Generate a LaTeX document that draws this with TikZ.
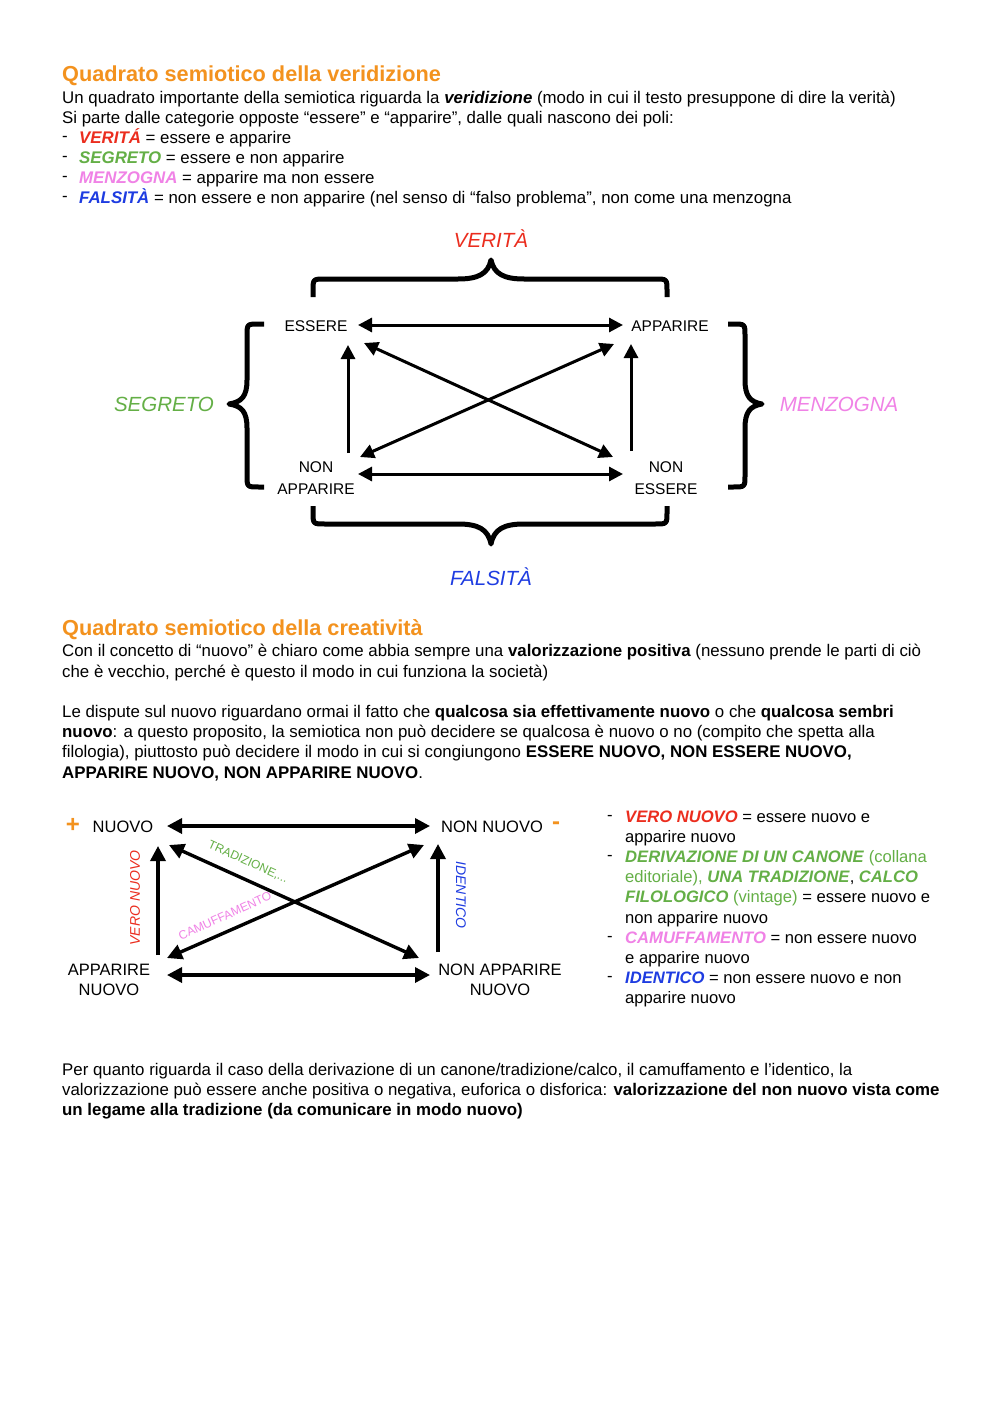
\documentclass[tikz,border=0pt]{standalone}
\usepackage{fontspec}
\setmainfont{Liberation Sans}
\usetikzlibrary{arrows.meta}
\definecolor{orng}{RGB}{243,146,30}
\definecolor{rd}{RGB}{235,45,30}
\definecolor{grn}{RGB}{100,175,70}
\definecolor{pnk}{RGB}{240,130,230}
\definecolor{blu}{RGB}{30,60,225}
\newcommand{\bfit}[1]{\textbf{\textit{#1}}}
\tikzset{
  txt/.style={anchor=base west, inner sep=0pt, font=\fontsize{16.85}{20}\selectfont},
  lst/.style={anchor=base west, inner sep=0pt, font=\fontsize{16.6}{20}\selectfont},
  ttl/.style={anchor=base west, inner sep=0pt, text=orng, font=\fontsize{21.7}{26}\selectfont\bfseries},
  pole/.style={inner sep=0pt, align=center, font=\fontsize{15.5}{21.5}\selectfont},
  poleb/.style={inner sep=0pt, align=center, font=\fontsize{16.5}{20}\selectfont},
  cat/.style={inner sep=0pt, font=\fontsize{20.5}{24}\selectfont\itshape},
  dlab/.style={inner sep=0pt, font=\fontsize{14}{16}\selectfont\itshape},
  slab/.style={inner sep=0pt, font=\fontsize{12}{14}\selectfont},
  brc/.style={line width=5pt, line join=round},
  arr/.style={line width=3pt, -{Triangle[length=14pt,width=14pt]}},
  darr/.style={line width=3pt, {Triangle[length=14pt,width=14pt]}-{Triangle[length=14pt,width=14pt]}},
  arrb/.style={line width=3.4pt, -{Triangle[length=15pt,width=15pt]}},
  darrb/.style={line width=3.4pt, {Triangle[length=15pt,width=15pt]}-{Triangle[length=15pt,width=15pt]}},
}
\begin{document}
\begin{tikzpicture}[x=1pt,y=-1pt]
\fill[white] (0,0) rectangle (1000,1415);
\useasboundingbox (0,0) rectangle (1000,1415);

% ---------- Section 1 ----------
\node[ttl] (t1) at (62,82) {Quadrato semiotico della veridizione};
\node[txt] (a1) at (62,104) {Un quadrato importante della semiotica riguarda la \bfit{veridizione} (modo in cui il testo presuppone di dire la verità)};
\node[txt] (a2) at (62,124) {Si parte dalle categorie opposte “essere” e “apparire”, dalle quali nascono dei poli:};
\node[txt] (d1) at (62,142) {-};
\node[txt] (b1) at (79,144) {{\color{rd}\bfit{VERITÁ}} = essere e apparire};
\node[txt] (d2) at (62,162) {-};
\node[txt] (b2) at (79,164) {{\color{grn}\bfit{SEGRETO}} = essere e non apparire};
\node[txt] (d3) at (62,182) {-};
\node[txt] (b3) at (79,184) {{\color{pnk}\bfit{MENZOGNA}} = apparire ma non essere};
\node[txt] (d4) at (62,202) {-};
\node[txt] (b4) at (79,204) {{\color{blu}\bfit{FALSITÀ}} = non essere e non apparire (nel senso di “falso problema”, non come una menzogna};

% ---------- Diagram 1 ----------
\node[cat, text=rd] (ver) at (491,239) {VERITÀ};
\node[cat, text=grn] (seg) at (164,404) {SEGRETO};
\node[cat, text=pnk] (men) at (839,404) {MENZOGNA};
\node[cat, text=blu] (fal) at (491,577) {FALSITÀ};

\node[pole] (ess) at (316,326) {ESSERE};
\node[pole] (app) at (670,326) {APPARIRE};
\node[pole] (nap) at (316,478) {NON\\APPARIRE};
\node[pole] (nes) at (666,478) {NON\\ESSERE};

\draw[darr] ([shift={(42,-1)}]ess.center) -- ([shift={(-47,-1)}]app.center);
\draw[darr] ([shift={(42,-4)}]nap.center) -- ([shift={(-43,-4)}]nes.center);
\draw[arr] ([shift={(32,-25)}]nap.center) -- ([shift={(32,19)}]ess.center);
\draw[arr] ([shift={(-35,-27)}]nes.center) -- ([shift={(-39,18)}]app.center);
\draw[darr] ([shift={(48,17)}]ess.center) -- ([shift={(-53,-21)}]nes.center);
\draw[darr] ([shift={(44,-21)}]nap.center) -- ([shift={(-56,18)}]app.center);

% braces
\draw[brc] (313,297) -- (313,291) .. controls (313,279) .. (325,279) -- (458,279) .. controls (478,279) and (488,274) .. (491,260) .. controls (494,274) and (504,279) .. (524,279) -- (655,279) .. controls (667,279) .. (667,291) -- (667,297);
\draw[brc] (313,506) -- (313,512) .. controls (313,524) .. (325,524) -- (458,524) .. controls (478,524) and (488,529) .. (491,544) .. controls (494,529) and (504,524) .. (524,524) -- (655,524) .. controls (667,524) .. (667,512) -- (667,506);
\draw[brc] (264,324) -- (259,324) .. controls (247,324) .. (247,336) -- (247,380) .. controls (247,396) and (242,402) .. (229,404) .. controls (242,406) and (247,412) .. (247,428) -- (247,475) .. controls (247,487) .. (259,487) -- (264,487);
\draw[brc] (728,324) -- (733,324) .. controls (745,324) .. (745,336) -- (745,380) .. controls (745,396) and (750,402) .. (762,404) .. controls (750,406) and (745,412) .. (745,428) -- (745,475) .. controls (745,487) .. (733,487) -- (728,487);

% ---------- Section 2 ----------
\node[ttl] (t2) at (62,635) {Quadrato semiotico della creatività};
\node[txt] (c1) at (62,656) {Con il concetto di “nuovo” è chiaro come abbia sempre una \textbf{valorizzazione positiva} (nessuno prende le parti di ciò};
\node[txt] (c2) at (62,677) {che è vecchio, perché è questo il modo in cui funziona la società)};
\node[txt] (c3) at (62,717) {Le dispute sul nuovo riguardano ormai il fatto che \textbf{qualcosa sia effettivamente nuovo} o che \textbf{qualcosa sembri}};
\node[txt] (c4) at (62,737) {\textbf{nuovo}: a questo proposito, la semiotica non può decidere se qualcosa è nuovo o no (compito che spetta alla};
\node[txt] (c5) at (62,757) {filologia), piuttosto può decidere il modo in cui si congiungono \textbf{ESSERE NUOVO, NON ESSERE NUOVO,}};
\node[txt] (c6) at (62,778) {\textbf{APPARIRE NUOVO, NON APPARIRE NUOVO}.};

% ---------- Diagram 2 ----------
\node[inner sep=0pt, text=orng, font=\fontsize{24}{24}\selectfont\bfseries] (plus) at (73,825) {+};
\node[inner sep=0pt, text=orng, font=\fontsize{24}{24}\selectfont\bfseries] (minus) at (556,826) {-};
\node[poleb] (nuovo) at (123,827) {NUOVO};
\node[poleb] (nonn) at (492,827) {NON NUOVO};
\node[poleb] (appn) at (109,980) {APPARIRE\\NUOVO};
\node[poleb] (napn) at (500,980) {NON APPARIRE\\NUOVO};

\draw[darrb] ([shift={(44,-1)}]nuovo.center) -- ([shift={(-62,-1)}]nonn.center);
\draw[darrb] ([shift={(58,-5)}]appn.center) -- ([shift={(-70,-5)}]napn.center);
\draw[arrb] ([shift={(49,-25)}]appn.center) -- ([shift={(35,19)}]nuovo.center);
\draw[arrb] ([shift={(-62,-28)}]napn.center) -- ([shift={(-54,17)}]nonn.center);
\draw[darrb] ([shift={(46,18)}]nuovo.center) -- ([shift={(-81,-22)}]napn.center);
\draw[darrb] ([shift={(58,-22)}]appn.center) -- ([shift={(-68,18)}]nonn.center);

\node[dlab, text=rd, rotate=90] (lvero) at (135,898) {VERO NUOVO};
\node[dlab, text=blu, rotate=-90] (lid) at (461,895) {IDENTICO};
\node[slab, text=grn, rotate=-24.3] (ltrad) at (248,862) {TRADIZIONE,...};
\node[slab, text=pnk, rotate=24.3] (lcam) at (225,916) {CAMUFFAMENTO};

% right list
\node[lst] (e1) at (607,820) {-};
\node[lst] (f1) at (625,822) {{\color{rd}\bfit{VERO NUOVO}} = essere nuovo e};
\node[lst] (f2) at (625,842) {apparire nuovo};
\node[lst] (e3) at (607,860) {-};
\node[lst] (f3) at (625,862) {{\color{grn}\bfit{DERIVAZIONE DI UN CANONE} (collana}};
\node[lst] (f4) at (625,882) {{\color{grn}editoriale), \bfit{UNA TRADIZIONE}}, {\color{grn}\bfit{CALCO}}};
\node[lst] (f5) at (625,902) {{\color{grn}\bfit{FILOLOGICO} (vintage)} = essere nuovo e};
\node[lst] (f6) at (625,923) {non apparire nuovo};
\node[lst] (e7) at (607,941) {-};
\node[lst] (f7) at (625,943) {{\color{pnk}\bfit{CAMUFFAMENTO}} = non essere nuovo};
\node[lst] (f8) at (625,963) {e apparire nuovo};
\node[lst] (e9) at (607,981) {-};
\node[lst] (f9) at (625,983) {{\color{blu}\bfit{IDENTICO}} = non essere nuovo e non};
\node[lst] (f10) at (625,1003) {apparire nuovo};

% bottom paragraph
\node[txt] (g1) at (62,1075) {Per quanto riguarda il caso della derivazione di un canone/tradizione/calco, il camuffamento e l’identico, la};
\node[txt] (g2) at (62,1095) {valorizzazione può essere anche positiva o negativa, euforica o disforica: \textbf{valorizzazione del non nuovo vista come}};
\node[txt] (g3) at (62,1115) {\textbf{un legame alla tradizione (da comunicare in modo nuovo)}};
\end{tikzpicture}
\end{document}
